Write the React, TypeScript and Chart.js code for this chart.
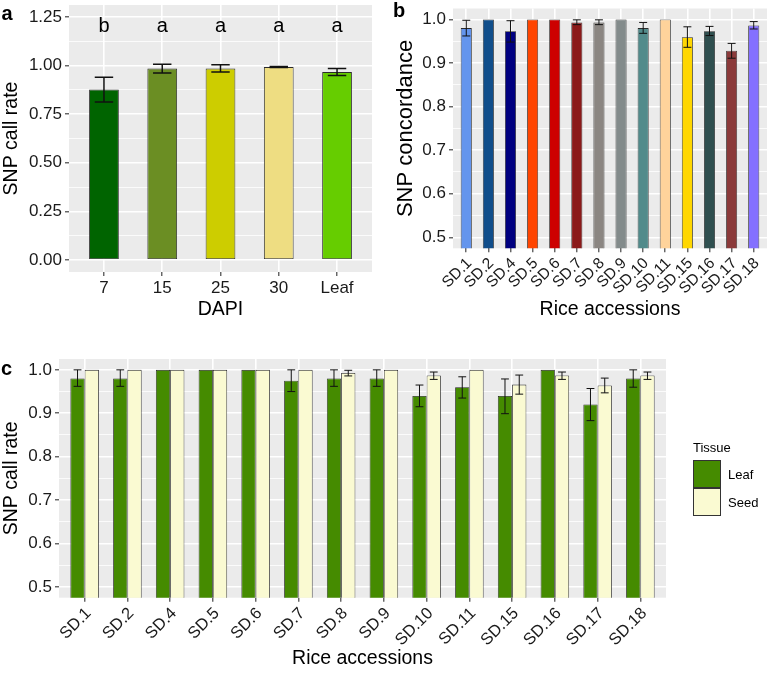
import React, { useEffect, useRef } from 'react';
import { Chart, registerables } from 'chart.js';

Chart.register(...registerables);

const FONT = '"Liberation Sans", Arial, Helvetica, sans-serif';
Chart.defaults.font.family = FONT;

// ---------- Panel a: call rate by DAPI ----------
const dapiLabels = ['7', '15', '25', '30', 'Leaf'];
const dapiCallRate = [0.877, 0.985, 0.985, 0.993, 0.967];
const dapiLow = [0.813, 0.962, 0.967, 0.99, 0.95];
const dapiHigh = [0.94, 1.008, 1.005, 0.996, 0.985];
const dapiLetters = ['b', 'a', 'a', 'a', 'a'];
const dapiLetterY = 1.2;
const dapiColors = ['#006400', '#6B8E23', '#CDCD00', '#EEDD82', '#66CD00'];
const aMajorTicks = [0, 0.25, 0.5, 0.75, 1, 1.25];
const aMinorTicks = [0.125, 0.375, 0.625, 0.875, 1.125];

// ---------- Panel b: SNP concordance ----------
const accessions = ['SD.1', 'SD.2', 'SD.4', 'SD.5', 'SD.6', 'SD.7', 'SD.8', 'SD.9', 'SD.10', 'SD.11', 'SD.15', 'SD.16', 'SD.17', 'SD.18'];
const concordance = [0.98, 1, 0.973, 1, 1, 0.993, 0.993, 1, 0.98, 1, 0.959, 0.973, 0.928, 0.986];
const concLow = [0.962, 1, 0.948, 1, 1, 0.988, 0.988, 1, 0.968, 1, 0.936, 0.963, 0.911, 0.978];
const concHigh = [0.998, 1, 0.997, 1, 1, 0.999, 0.999, 1, 0.993, 1, 0.983, 0.984, 0.945, 0.995];
const accessionColors = ['#6495ED', '#104E8B', '#000080', '#FF4500', '#CD0000', '#8B1A1A', '#8B8682', '#838B8B', '#528B8B', '#FFD39B', '#FFD700', '#2F4F4F', '#8B3A3A', '#8470FF'];
const bcMajorTicks = [0.5, 0.6, 0.7, 0.8, 0.9, 1.0];
const bcMinorTicks = [0.55, 0.65, 0.75, 0.85, 0.95];

// ---------- Panel c: call rate by tissue ----------
const tissues = ['Leaf', 'Seed'];
const tissueColors = ['#458B00', '#FAFAD2'];
const leafRate = [0.98, 0.98, 1, 1, 1, 0.975, 0.98, 0.98, 0.94, 0.96, 0.94, 1, 0.92, 0.98];
const leafLow = [0.962, 0.962, 1, 1, 1, 0.95, 0.962, 0.962, 0.915, 0.935, 0.899, 1, 0.883, 0.96];
const leafHigh = [1, 1, 1, 1, 1, 1, 1, 1, 0.965, 0.984, 0.979, 1, 0.957, 1];
const seedRate = [1, 1, 1, 1, 1, 1, 0.993, 1, 0.987, 1, 0.966, 0.987, 0.964, 0.987];
const seedLow = [1, 1, 1, 1, 1, 1, 0.986, 1, 0.978, 1, 0.944, 0.978, 0.947, 0.978];
const seedHigh = [1, 1, 1, 1, 1, 1, 0.999, 1, 0.995, 1, 0.988, 0.995, 0.981, 0.995];

const TICK_COLOR = '#1A1A1A';

const panelBg = {
  id: 'panelBg',
  beforeDraw(chart: any) {
    const { ctx, chartArea: a } = chart;
    ctx.save();
    ctx.fillStyle = '#EBEBEB';
    ctx.fillRect(a.left, a.top, a.right - a.left, a.bottom - a.top);
    ctx.restore();
  },
};

function makeErrorBars(capFrac: number, lineWidth: number) {
  return {
    id: 'errorBars',
    afterDatasetsDraw(chart: any) {
      const ctx = chart.ctx;
      const ys = chart.scales.y;
      chart.data.datasets.forEach((ds: any, di: number) => {
        if (!ds.errorLow) return;
        const meta = chart.getDatasetMeta(di);
        meta.data.forEach((el: any, i: number) => {
          const lo = ds.errorLow[i];
          const hi = ds.errorHigh[i];
          if (hi - lo < 1e-9) return;
          const yl = ys.getPixelForValue(lo);
          const yh = ys.getPixelForValue(hi);
          const half = (el.width * capFrac) / 2;
          ctx.save();
          ctx.strokeStyle = '#111';
          ctx.lineWidth = lineWidth;
          ctx.beginPath();
          ctx.moveTo(el.x, yl);
          ctx.lineTo(el.x, yh);
          ctx.moveTo(el.x - half, yl);
          ctx.lineTo(el.x + half, yl);
          ctx.moveTo(el.x - half, yh);
          ctx.lineTo(el.x + half, yh);
          ctx.stroke();
          ctx.restore();
        });
      });
    },
  };
}

function makeLetters(labels: string[], value: number) {
  return {
    id: 'groupLetters',
    afterDatasetsDraw(chart: any) {
      const ctx = chart.ctx;
      const y = chart.scales.y.getPixelForValue(value);
      const meta = chart.getDatasetMeta(0);
      ctx.save();
      ctx.font = `20px ${FONT}`;
      ctx.fillStyle = '#000';
      ctx.textAlign = 'center';
      ctx.textBaseline = 'middle';
      meta.data.forEach((el: any, i: number) => ctx.fillText(labels[i], el.x, y));
      ctx.restore();
    },
  };
}

function zeroPad(s: any) {
  s.paddingTop = 0;
  s.paddingBottom = 0;
  s.paddingLeft = 0;
  s.paddingRight = 0;
}

function makeY(min: number, max: number, majors: number[], minors: number[], decimals: number, width: number, title: string, titleSize: number, titlePad: number) {
  const all = [...majors, ...minors].sort((p, q) => p - q);
  return {
    type: 'linear',
    min,
    max,
    afterBuildTicks: (s: any) => {
      s.ticks = all.map((v) => ({ value: v, major: majors.includes(v) }));
    },
    afterFit: (s: any) => {
      s.width = width;
      zeroPad(s);
    },
    border: { display: false },
    grid: {
      color: '#FFFFFF',
      lineWidth: (c: any) => (c.tick && c.tick.major ? 1.6 : 0.8),
      tickLength: 4,
      tickColor: (c: any) => (c.tick && c.tick.major ? '#333333' : 'rgba(0,0,0,0)'),
      tickWidth: 1.1,
    },
    ticks: {
      autoSkip: false,
      padding: 3,
      color: TICK_COLOR,
      font: { family: FONT, size: 17 },
      callback: (v: number) => (majors.includes(v) ? v.toFixed(decimals) : ''),
    },
    title: {
      display: true,
      text: title,
      color: '#000',
      font: { family: FONT, size: titleSize },
      padding: { top: titlePad, bottom: 0 },
    },
  };
}

function makeX(labels: string[], rotation: number, height: number, title: string, titlePadBottom: number, fontSize: number, labelOffset: number) {
  return {
    type: 'linear',
    min: -0.6,
    max: labels.length - 1 + 0.6,
    offset: false,
    afterBuildTicks: (s: any) => {
      s.ticks = labels.map((_, i) => ({ value: i }));
    },
    afterFit: (s: any) => {
      s.height = height;
      zeroPad(s);
    },
    border: { display: false },
    grid: {
      color: '#FFFFFF',
      lineWidth: 1.6,
      tickLength: 4,
      tickColor: '#333333',
      tickWidth: 1.1,
      offset: false,
    },
    ticks: {
      autoSkip: false,
      minRotation: rotation,
      maxRotation: rotation,
      padding: 2,
      labelOffset,
      color: TICK_COLOR,
      font: { family: FONT, size: fontSize },
      callback: (v: number) => labels[v] ?? '',
    },
    title: {
      display: true,
      text: title,
      color: '#000',
      font: { family: FONT, size: 19.5 },
      padding: { top: 0, bottom: titlePadBottom },
    },
  };
}

function baseOptions(padding: any, scales: any) {
  return {
    responsive: false,
    maintainAspectRatio: false,
    animation: false,
    devicePixelRatio: 1,
    events: [],
    layout: { padding },
    plugins: { legend: { display: false }, tooltip: { enabled: false } },
    scales,
  };
}

const configA = () => ({
  type: 'bar',
  data: {
    datasets: [
      {
        label: 'SNP call rate',
        data: dapiLabels.map((_, i) => ({ x: i, y: dapiCallRate[i] })),
        backgroundColor: dapiColors,
        borderColor: '#2A2A2A',
        borderWidth: 0.9,
        borderSkipped: false,
        barPercentage: 0.51,
        categoryPercentage: 1,
        clip: 0,
        errorLow: dapiLow,
        errorHigh: dapiHigh,
      },
    ],
  },
  options: baseOptions(
    { left: 0, top: 5, right: 18, bottom: 0 },
    {
      x: makeX(dapiLabels, 0, 58, 'DAPI', 8.2, 17, 0),
      y: makeY(-0.0625, 1.3125, aMajorTicks, aMinorTicks, 2, 69, 'SNP call rate', 19.5, 0),
    }
  ),
  plugins: [panelBg, makeErrorBars(0.62, 1.5), makeLetters(dapiLetters, dapiLetterY)],
});

const configB = () => ({
  type: 'bar',
  data: {
    datasets: [
      {
        label: 'SNP concordance',
        data: accessions.map((_, i) => ({ x: i, y: concordance[i] })),
        backgroundColor: accessionColors,
        borderColor: '#2A2A2A',
        borderWidth: 0.8,
        borderSkipped: false,
        barPercentage: 0.5,
        categoryPercentage: 1,
        clip: 0,
        errorLow: concLow,
        errorHigh: concHigh,
      },
    ],
  },
  options: baseOptions(
    { left: 0, top: 8.5, right: 1, bottom: 0 },
    {
      x: makeX(accessions, 45, 81.7, 'Rice accessions', 8.2, 15.5, 3),
      y: makeY(0.475, 1.025, bcMajorTicks, bcMinorTicks, 1, 63, 'SNP concordance', 22, 2.5),
    }
  ),
  plugins: [panelBg, makeErrorBars(0.72, 1)],
});

const configC = () => ({
  type: 'bar',
  data: {
    datasets: [
      {
        label: tissues[0],
        data: accessions.map((_, i) => ({ x: i, y: leafRate[i] })),
        backgroundColor: tissueColors[0],
        borderColor: '#222222',
        borderWidth: 0.8,
        borderSkipped: false,
        barPercentage: 1,
        categoryPercentage: 0.667,
        clip: 0,
        errorLow: leafLow,
        errorHigh: leafHigh,
      },
      {
        label: tissues[1],
        data: accessions.map((_, i) => ({ x: i, y: seedRate[i] })),
        backgroundColor: tissueColors[1],
        borderColor: '#222222',
        borderWidth: 0.8,
        borderSkipped: false,
        barPercentage: 1,
        categoryPercentage: 0.667,
        clip: 0,
        errorLow: seedLow,
        errorHigh: seedHigh,
      },
    ],
  },
  options: baseOptions(
    { left: 0, top: 29, right: 102, bottom: 0 },
    {
      x: makeX(accessions, 45, 75.3, 'Rice accessions', 2.4, 16.5, 4),
      y: makeY(0.475, 1.025, bcMajorTicks, bcMinorTicks, 1, 59, 'SNP call rate', 19.5, 0),
    }
  ),
  plugins: [panelBg, makeErrorBars(0.55, 1)],
});

function ChartCanvas({ config, left, top, width, height }: any) {
  const ref = useRef<HTMLCanvasElement>(null);
  useEffect(() => {
    const chart = new Chart(ref.current as HTMLCanvasElement, config() as any);
    return () => chart.destroy();
  }, []);
  return (
    <canvas
      ref={ref}
      width={width}
      height={height}
      style={{ position: 'absolute', left, top, width, height, display: 'block' }}
    />
  );
}

const letterStyle = (left: number, top: number): React.CSSProperties => ({
  position: 'absolute',
  left,
  top,
  font: `bold 20px ${FONT}`,
  lineHeight: '20px',
  color: '#000',
});

const legendText = (left: number, top: number): React.CSSProperties => ({
  position: 'absolute',
  left,
  top,
  font: `13px ${FONT}`,
  lineHeight: '15px',
  color: '#000',
  whiteSpace: 'nowrap',
});

const keyBox = (top: number, color: string): React.CSSProperties => ({
  position: 'absolute',
  left: 693,
  top,
  width: 28,
  height: 28,
  boxSizing: 'border-box',
  border: '1px solid #333',
  background: color,
});

export default function App() {
  return (
    <div style={{ position: 'absolute', left: 0, top: 0, width: 768, height: 673, background: '#fff', overflow: 'hidden' }}>
      <ChartCanvas config={configA} left={0} top={0} width={390} height={330} />
      <ChartCanvas config={configB} left={390} top={0} width={378} height={330} />
      <ChartCanvas config={configC} left={0} top={330} width={768} height={343} />
      <div style={letterStyle(1.5, 3)}>a</div>
      <div style={letterStyle(393, 0)}>b</div>
      <div style={letterStyle(1, 358)}>c</div>
      <div style={legendText(693, 440)}>Tissue</div>
      <div style={keyBox(460, tissueColors[0])} />
      <div style={keyBox(488, tissueColors[1])} />
      <div style={legendText(728, 467)}>{tissues[0]}</div>
      <div style={legendText(728, 495)}>{tissues[1]}</div>
    </div>
  );
}
